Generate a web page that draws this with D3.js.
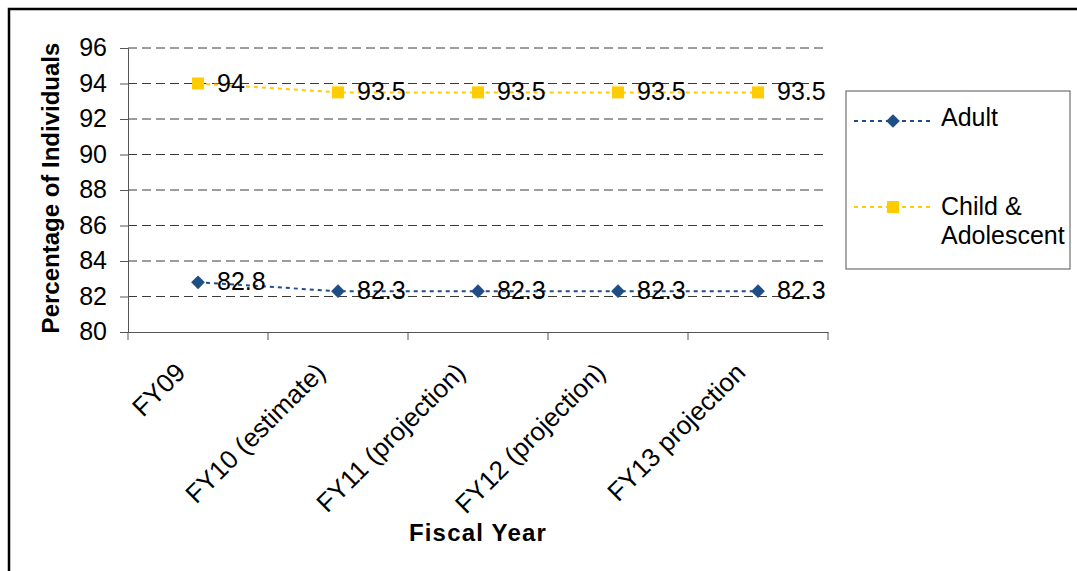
<!DOCTYPE html>
<html><head><meta charset="utf-8">
<script src="https://cdn.jsdelivr.net/npm/d3@7"></script>
<style>body{margin:0;background:#fff}svg{display:block;font-family:"Liberation Sans",Arial,sans-serif}</style>
</head><body><svg id="c" width="1077" height="571"></svg>
<script>
const categories = ["FY09","FY10 (estimate)","FY11 (projection)","FY12 (projection)","FY13 projection"];
const adult = [82.8,82.3,82.3,82.3,82.3];
const child = [94,93.5,93.5,93.5,93.5];
const yTicks = [80,82,84,86,88,90,92,94,96];
const seriesNames = ["Adult","Child & Adolescent"];
const seriesColors = ["#1F4E86","#FFCC00"];

const FS = 25;
const svg = d3.select("#c");
svg.append("rect").attr("x",9).attr("y",9).attr("width",1100).attr("height",600)
  .attr("fill","none").attr("stroke","#000").attr("stroke-width",2.5);

const L=128,R=828,T=48,B=332;
const x = d3.scaleBand().domain(categories).range([L,R]);
const y = d3.scaleLinear().domain([80,96]).range([B,T]);

// gridlines
svg.append("g").selectAll("line").data(yTicks.filter(v=>v>80)).join("line")
  .attr("x1",L).attr("x2",R).attr("y1",d=>y(d)).attr("y2",d=>y(d))
  .attr("stroke","#3a3a3a").attr("stroke-width",1).attr("stroke-dasharray","9,5");

// y axis
const ya = svg.append("g").attr("transform",`translate(${L},0)`)
  .call(d3.axisLeft(y).tickValues(yTicks).tickSize(8).tickPadding(13).tickFormat(d3.format("d")));
ya.select(".domain").attr("stroke","#555");
ya.selectAll(".tick line").attr("stroke","#555");
ya.selectAll("text").attr("font-size",FS).attr("fill","#000").attr("dy","0.3em")
  .attr("font-family","Liberation Sans, Arial, sans-serif");

// x axis
const xa = svg.append("g").attr("transform",`translate(0,${B})`)
  .call(d3.axisBottom(x).tickSize(0).tickFormat(""));
xa.select(".domain").attr("stroke","#555");
xa.selectAll(".tick").remove();
const edges = categories.map(c=>x(c)).concat([x(categories[categories.length-1])+x.bandwidth()]);
svg.append("g").selectAll("line").data(edges).join("line")
  .attr("x1",d=>d).attr("x2",d=>d).attr("y1",B).attr("y2",B+8).attr("stroke","#555");
svg.append("g").selectAll("text").data(categories).join("text")
  .attr("transform",d=>`translate(${x(d)+x.bandwidth()/2-11},${B+42}) rotate(-45)`)
  .attr("text-anchor","end").attr("font-size",26).attr("fill","#000").text(d=>d);

// axis titles
svg.append("text").attr("transform","translate(59,188) rotate(-90)").attr("text-anchor","middle")
  .attr("font-size",24).attr("font-weight","bold").text("Percentage of Individuals");
svg.append("text").attr("x",478).attr("y",541).attr("text-anchor","middle")
  .attr("font-size",24).attr("font-weight","bold").attr("letter-spacing",1.2).text("Fiscal Year");

// series
const cx = d=>x(d)+x.bandwidth()/2;
const diamond = d3.symbol().type(d3.symbolDiamond2).size(120);
[[adult,0],[child,1]].forEach(([vals,i])=>{
  const pts = categories.map((c,j)=>[cx(c),y(vals[j])]);
  svg.append("path").attr("d",d3.line()(pts)).attr("fill","none")
    .attr("stroke",seriesColors[i]).attr("stroke-width",2).attr("stroke-dasharray","4,4");
  const g = svg.append("g");
  if(i===0){
    g.selectAll("path").data(pts).join("path").attr("d",diamond)
      .attr("transform",p=>`translate(${p[0]},${p[1]})`).attr("fill",seriesColors[i]);
  } else {
    g.selectAll("rect").data(pts).join("rect").attr("x",p=>p[0]-6).attr("y",p=>p[1]-6)
      .attr("width",12).attr("height",12).attr("fill",seriesColors[i]);
  }
  svg.append("g").selectAll("text").data(vals).join("text")
    .attr("x",(v,j)=>pts[j][0]+19).attr("y",(v,j)=>pts[j][1]+8)
    .attr("font-size",FS).attr("fill","#000").text(v=>v);
});

// legend
svg.append("rect").attr("x",846).attr("y",91).attr("width",224).attr("height",178)
  .attr("fill","#fff").attr("stroke","#555").attr("stroke-width",1);
const legY=[121,207];
seriesNames.forEach((n,i)=>{
  svg.append("line").attr("x1",854).attr("x2",930).attr("y1",legY[i]).attr("y2",legY[i])
    .attr("stroke",seriesColors[i]).attr("stroke-width",2).attr("stroke-dasharray","4,4");
  if(i===0) svg.append("path").attr("d",diamond).attr("transform",`translate(893,${legY[i]})`).attr("fill",seriesColors[i]);
  else svg.append("rect").attr("x",887).attr("y",legY[i]-6).attr("width",12).attr("height",12).attr("fill",seriesColors[i]);
});
svg.append("text").attr("x",941).attr("y",126).attr("font-size",25).text("Adult");
const t2 = svg.append("text").attr("x",941).attr("y",215).attr("font-size",25);
t2.append("tspan").attr("x",941).text("Child &");
t2.append("tspan").attr("x",941).attr("dy",29).text("Adolescent");
</script></body></html>
